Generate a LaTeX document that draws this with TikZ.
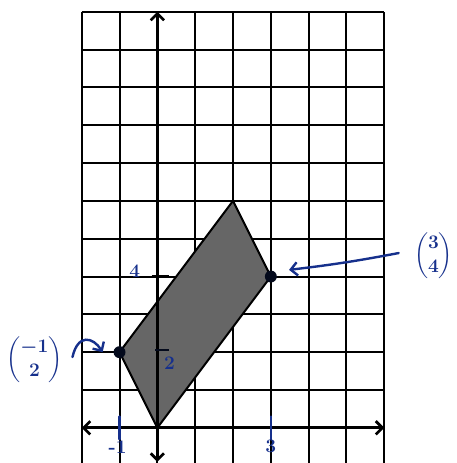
\documentclass[tikz,border=0pt]{standalone}
\usepackage{amsmath,amssymb,bm}
\usetikzlibrary{arrows.meta,positioning}
\definecolor{pen}{RGB}{22,48,140}

\begin{document}
\begin{tikzpicture}[>={Straight Barb[length=5pt,width=10pt]},
  ink/.style={pen,line width=1.8pt,line cap=round},
  dot/.style={circle,fill=black!80!pen,inner sep=0pt,minimum size=9pt},
  vec/.style={pen,font=\Large\boldmath},
  lab/.style={pen,font=\Large\bfseries}]
  \useasboundingbox (-4.16,-0.93) rectangle (7.9,11.31);
  % 网格
  \draw[line width=1.5pt] (-2,0) grid (6,11);
  \foreach \x in {-2,...,6} \draw[line width=1.5pt] (\x,-0.93) -- (\x,0);
  % 平行四边形
  \filldraw[fill=black!60,draw=black,line width=1.5pt] (-1,2) -- (0,0) -- (3,4) -- (2,6) -- cycle;
  % 坐标轴
  \draw[<->,line width=2pt] (-2,0) -- (6,0);
  \draw[<->,line width=2pt] (0,-0.9) -- (0,11);
  % 刻度
  \draw[line width=2pt] (-0.15,4) -- (0.3,4);
  \node[lab] at (-0.6,4.15) {4};
  \draw[line width=1.8pt,black!80!pen] (-0.05,2.05) -- (0.3,2.05);
  \node[lab] at (0.32,1.7) {2};
  \draw[ink] (-1,-0.3) -- (-1,0.3);
  \node[lab] at (-1.05,-0.5) {-1};
  \draw[ink] (3,-0.3) -- (3,0.3);
  \node[lab] at (3,-0.5) {3};
  % 两个点
  \node[dot] (A) at (-1,2) {};
  \node[dot] (B) at (3,4) {};
  \node[vec] (va) at (-3.25,1.8) {$\begin{pmatrix}-1\\2\end{pmatrix}$};
  \node[vec] (vb) at (7.3,4.55) {$\begin{pmatrix}3\\4\end{pmatrix}$};
  \draw[ink,->] ([xshift=4pt,yshift=2pt]va.east) .. controls (-2.1,2.5) and (-1.7,2.4) .. ([xshift=-8pt]A.west);
  \draw[ink,->] ([xshift=-8pt,yshift=2pt]vb.west) to[bend left=2] ([xshift=9pt,yshift=5pt]B.east);
\end{tikzpicture}
\end{document}
